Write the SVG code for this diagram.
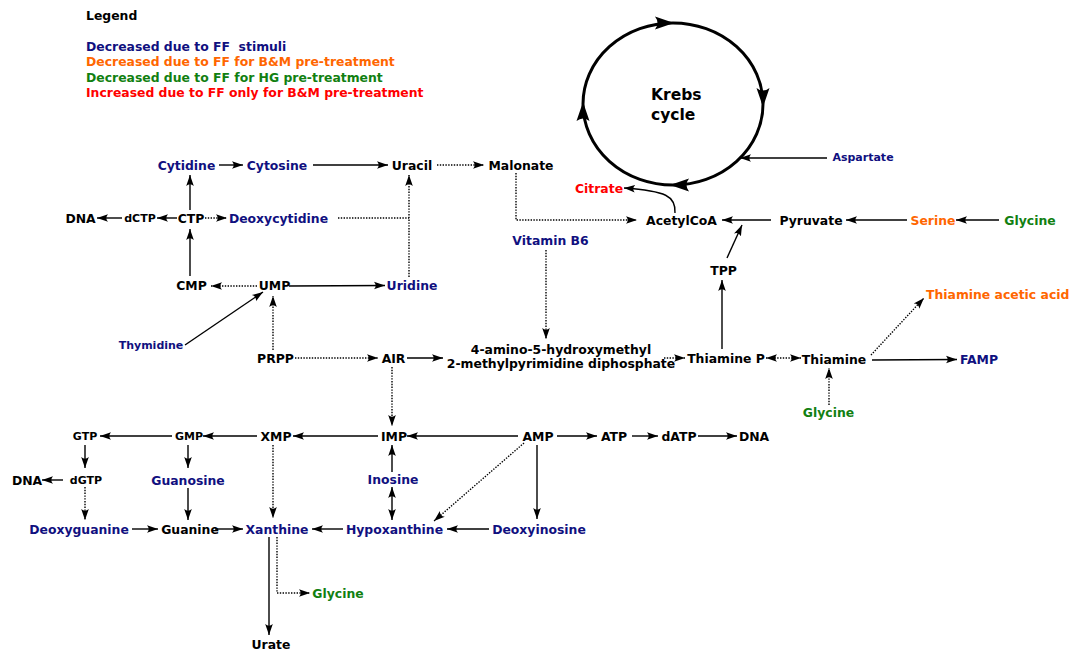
<svg xmlns="http://www.w3.org/2000/svg" width="1069" height="650" viewBox="0 0 1069 650">
<style>
text{font-family:"DejaVu Sans","Liberation Sans",sans-serif;font-weight:bold;font-size:12.4px;fill:#000;text-anchor:middle}
.s{font-size:11px}
.b{fill:#10107f}
.o{fill:#ff6600}
.g{fill:#118011}
.r{fill:#ff0000}
.l{text-anchor:start}
.k{font-size:15.5px;text-anchor:start}
.c{fill:none;stroke:#000;stroke-width:1.4;marker-end:url(#a)}
.d{fill:none;stroke:#000;stroke-width:1.4;stroke-dasharray:1.4 1.4;marker-end:url(#a)}
.n{marker-end:none}
.two{marker-start:url(#a)}
</style>
<defs>
<marker id="a" markerWidth="13" markerHeight="10" refX="11" refY="5" orient="auto-start-reverse" markerUnits="userSpaceOnUse">
<path d="M11,5 L0,1.2 Q3.4,5 0,8.8 Z" fill="#000"/>
</marker>
</defs>
<rect width="1069" height="650" fill="#fff"/>
<g id="legend">
<text class="l" x="86" y="19.5">Legend</text>
<text class="l b" x="86" y="51" xml:space="preserve" style="white-space:pre">Decreased due to FF  stimuli</text>
<text class="l o" x="86" y="66">Decreased due to FF for B&amp;M pre-treatment</text>
<text class="l g" x="86" y="82">Decreased due to FF for HG pre-treatment</text>
<text class="l r" x="86" y="97">Increased due to FF only for B&amp;M pre-treatment</text>
</g>
<g id="krebs">
<ellipse cx="673" cy="104" rx="90" ry="81" fill="none" stroke="#000" stroke-width="3"/>
<path d="M674,23 L655,16.5 Q660,23 655,29.5 Z M763,107 L756.5,88 Q763,93 769.5,88 Z M670,185 L689,178.5 Q684,185 689,191.5 Z M583,102 L576.5,121 Q583,116 589.5,121 Z" fill="#000"/>
<text class="k" x="651" y="100">Krebs</text>
<text class="k" x="651" y="119.5">cycle</text>
</g>
<g id="connectors">
<line class="c" x1="219" y1="165" x2="243" y2="165"/>
<line class="c" x1="313" y1="165" x2="388" y2="165"/>
<line class="d" x1="437" y1="165" x2="484" y2="165"/>
<line class="c" x1="190" y1="210" x2="190" y2="175"/>
<line class="c" x1="190" y1="276" x2="190" y2="229"/>
<line class="c" x1="177" y1="218" x2="157" y2="218"/>
<line class="c" x1="122" y1="218" x2="97" y2="218"/>
<line class="d" x1="205" y1="218" x2="227" y2="218"/>
<line class="d n" x1="338" y1="218" x2="409" y2="218"/>
<line class="d" x1="409" y1="277" x2="409" y2="175"/>
<line class="d" x1="257" y1="286" x2="211" y2="286"/>
<line class="c" x1="289" y1="286" x2="385" y2="285.5"/>
<line class="c" x1="185" y1="345" x2="263" y2="292"/>
<line class="d" x1="273" y1="350" x2="273" y2="296"/>
<line class="d" x1="295" y1="358" x2="378" y2="358"/>
<line class="c" x1="407" y1="358" x2="443" y2="358"/>
<line class="d" x1="392" y1="367" x2="392" y2="426"/>
<line class="d" x1="546" y1="250" x2="546" y2="339"/>
<line class="d" x1="664" y1="358" x2="685" y2="358"/>
<line class="d two" x1="766" y1="358" x2="801" y2="358"/>
<line class="c" x1="872" y1="360" x2="957" y2="359.5"/>
<line class="d" x1="871" y1="355" x2="924" y2="298"/>
<line class="d" x1="829" y1="405" x2="829" y2="368"/>
<line class="c" x1="722" y1="349" x2="722" y2="280"/>
<line class="c" x1="727" y1="258" x2="742" y2="225"/>
<line class="c" x1="771" y1="220" x2="722" y2="220"/>
<line class="c" x1="907" y1="220" x2="846" y2="220"/>
<line class="c" x1="999" y1="220" x2="956" y2="220"/>
<path class="d" d="M516,173 V220 H637"/>
<path class="c" d="M675,213 C676,196 666,191 624,188"/>
<line class="c" x1="827" y1="158" x2="740" y2="158"/>
<line class="c" x1="518" y1="436" x2="407" y2="436"/>
<line class="c" x1="378" y1="436" x2="293" y2="436"/>
<line class="c" x1="257" y1="436" x2="203" y2="436"/>
<line class="c" x1="172" y1="436" x2="100" y2="436"/>
<line class="c" x1="557" y1="436" x2="597" y2="436"/>
<line class="c" x1="632" y1="436" x2="658" y2="436"/>
<line class="c" x1="698" y1="436" x2="737" y2="436"/>
<line class="c" x1="85" y1="445" x2="85" y2="468"/>
<line class="c" x1="63" y1="480" x2="42" y2="480"/>
<line class="d" x1="85" y1="487" x2="85" y2="520"/>
<line class="c" x1="188" y1="445" x2="188" y2="468"/>
<line class="c" x1="188" y1="488" x2="188" y2="520"/>
<line class="d" x1="273" y1="445" x2="273" y2="518"/>
<line class="c" x1="392" y1="472" x2="392" y2="445"/>
<line class="c two" x1="392" y1="487" x2="392" y2="520"/>
<line class="c" x1="537" y1="445" x2="537" y2="519"/>
<line class="d" x1="524" y1="443" x2="434" y2="521"/>
<line class="c" x1="132" y1="529" x2="158" y2="529"/>
<line class="c" x1="215" y1="529" x2="243" y2="529"/>
<line class="c" x1="343" y1="529" x2="312" y2="529"/>
<line class="c" x1="489" y1="529" x2="447" y2="529"/>
<line class="c" x1="269" y1="537" x2="269" y2="635"/>
<path class="d" d="M277,537 V593 H310"/>
</g>
<g id="n-cytidine"><text class="b" x="186.5" y="170">Cytidine</text></g>
<g id="n-cytosine"><text class="b" x="277" y="170">Cytosine</text></g>
<g id="n-uracil"><text x="412" y="170">Uracil</text></g>
<g id="n-malonate"><text x="521" y="170">Malonate</text></g>
<g id="n-dna1"><text x="80.5" y="223">DNA</text></g>
<g id="n-dctp"><text class="s" x="140" y="222">dCTP</text></g>
<g id="n-ctp"><text x="191" y="223">CTP</text></g>
<g id="n-deoxycytidine"><text class="b" x="278.5" y="223">Deoxycytidine</text></g>
<g id="n-cmp"><text x="191.5" y="290">CMP</text></g>
<g id="n-ump"><text x="274.5" y="290">UMP</text></g>
<g id="n-uridine"><text class="b" x="412" y="290">Uridine</text></g>
<g id="n-thymidine"><text class="s b" x="151" y="349">Thymidine</text></g>
<g id="n-prpp"><text x="275.5" y="363">PRPP</text></g>
<g id="n-air"><text x="393.5" y="363">AIR</text></g>
<g id="n-ahmp"><text x="561" y="354">4-amino-5-hydroxymethyl</text><text x="561" y="368">2-methylpyrimidine diphosphate</text></g>
<g id="n-vitb6"><text class="b" x="550.5" y="245">Vitamin B6</text></g>
<g id="n-citrate"><text class="r" x="599" y="193">Citrate</text></g>
<g id="n-acetylcoa"><text x="681.5" y="225">AcetylCoA</text></g>
<g id="n-pyruvate"><text x="811" y="225">Pyruvate</text></g>
<g id="n-serine"><text class="o" x="933" y="225">Serine</text></g>
<g id="n-glycine1"><text class="g" x="1030" y="225">Glycine</text></g>
<g id="n-aspartate"><text class="s b" x="863" y="161">Aspartate</text></g>
<g id="n-tpp"><text x="723.5" y="275">TPP</text></g>
<g id="n-thiamineacetic"><text class="o l" x="926" y="299">Thiamine acetic acid</text></g>
<g id="n-thiaminep"><text x="726" y="363">Thiamine P</text></g>
<g id="n-thiamine"><text x="834" y="364">Thiamine</text></g>
<g id="n-famp"><text class="b" x="979" y="364">FAMP</text></g>
<g id="n-glycine2"><text class="g" x="828.5" y="417">Glycine</text></g>
<g id="n-gtp"><text class="s" x="85" y="440">GTP</text></g>
<g id="n-gmp"><text class="s" x="189" y="440">GMP</text></g>
<g id="n-xmp"><text x="276" y="441">XMP</text></g>
<g id="n-imp"><text x="394" y="441">IMP</text></g>
<g id="n-amp"><text x="538" y="441">AMP</text></g>
<g id="n-atp"><text x="614" y="441">ATP</text></g>
<g id="n-datp"><text x="679" y="441">dATP</text></g>
<g id="n-dna2"><text x="754" y="441">DNA</text></g>
<g id="n-dna3"><text x="27" y="485">DNA</text></g>
<g id="n-dgtp"><text class="s" x="86" y="484">dGTP</text></g>
<g id="n-guanosine"><text class="b" x="188" y="485">Guanosine</text></g>
<g id="n-inosine"><text class="b" x="393" y="484">Inosine</text></g>
<g id="n-deoxyguanine"><text class="b" x="79" y="534">Deoxyguanine</text></g>
<g id="n-guanine"><text x="190" y="534">Guanine</text></g>
<g id="n-xanthine"><text class="b" x="277" y="534">Xanthine</text></g>
<g id="n-hypoxanthine"><text class="b" x="394.5" y="534">Hypoxanthine</text></g>
<g id="n-deoxyinosine"><text class="b" x="539" y="534">Deoxyinosine</text></g>
<g id="n-glycine3"><text class="g" x="338" y="598">Glycine</text></g>
<g id="n-urate"><text x="271" y="649">Urate</text></g>
</svg>
